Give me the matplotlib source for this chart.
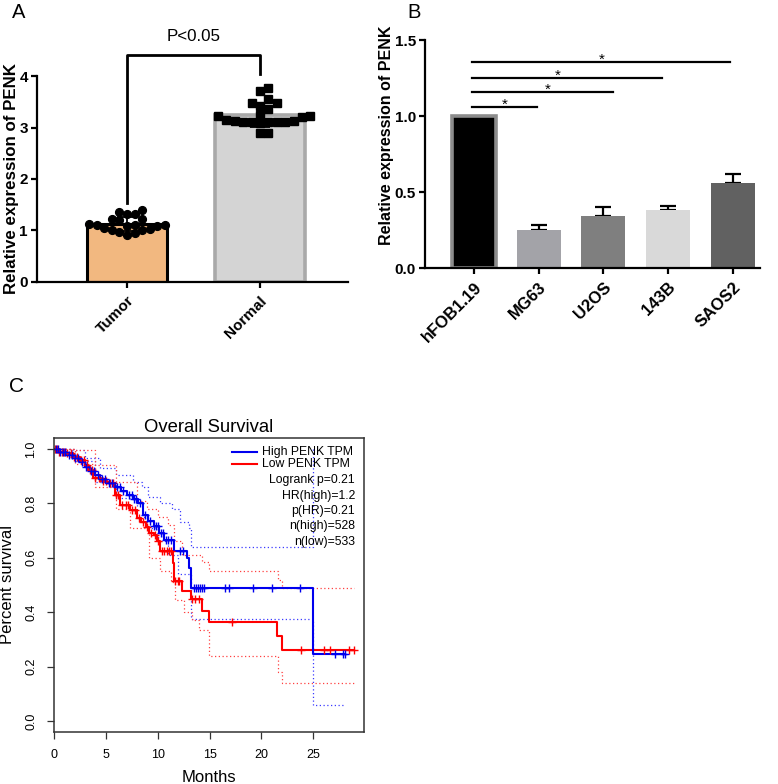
import numpy as np
import matplotlib
matplotlib.use("Agg")
import matplotlib.pyplot as plt

plt.rcParams['font.family'] = ['Liberation Sans', 'DejaVu Sans']

# ---------------- Panel A data ----------------
groups_A = ["Tumor", "Normal"]
tumor_vals = [1.40, 1.33, 1.33, 1.35, 1.22, 1.20, 1.22, 1.10, 1.10, 1.08,
              1.10, 1.08, 1.05, 1.03, 1.00, 0.98, 0.95, 0.92, 1.12, 1.00]
normal_vals = [3.77, 3.70, 3.55, 3.48, 3.47, 3.42, 3.35, 3.25, 3.22, 3.22,
               3.12, 3.10, 3.10, 3.08, 3.15, 3.12, 3.10, 3.10, 3.10, 2.90,
               2.90, 3.20]
pval_text = "P<0.05"

# ---------------- Panel B data ----------------
cells_B = ["hFOB1.19", "MG63", "U2OS", "143B", "SAOS2"]
means_B = [1.00, 0.25, 0.34, 0.38, 0.56]
errs_B = [0.00, 0.035, 0.06, 0.03, 0.06]
sig_end_x = [0.97, 2.15, 2.90, 3.96]
sig_y = [1.06, 1.16, 1.25, 1.355]
sig_star_x = [0.48, 1.14, 1.30, 1.98]

# ---------------- Panel C data (Kaplan-Meier) ----------------
blue_t = [0, 0.5, 1.2, 1.8, 2.5, 3.0, 3.5, 4.0, 4.4, 5.0, 5.9, 6.5, 7.0, 7.6,
          8.1, 8.6, 9.1, 9.6, 10.1, 10.6, 11.55, 12.85, 13.05, 13.2, 25.0]
blue_s = [1.0, 0.99, 0.978, 0.965, 0.953, 0.935, 0.917, 0.905, 0.89, 0.875,
          0.861, 0.845, 0.83, 0.815, 0.80, 0.757, 0.735, 0.715, 0.69, 0.665,
          0.626, 0.598, 0.561, 0.49, 0.245]
blue_end = 28.06
blue_cens = [0.2, 0.4, 0.6, 0.9, 1.1, 1.4, 1.7, 2.0, 2.3, 2.7, 3.1, 3.6, 3.9,
             4.2, 4.6, 4.9, 5.3, 5.6, 6.1, 6.4, 6.7, 7.2, 7.5, 7.7, 7.9, 8.3,
             8.8, 9.3, 9.6, 9.8, 10.0, 10.3, 10.5, 10.8, 11.0, 11.3, 12.2,
             12.4, 13.5, 13.7, 13.9, 14.1, 14.3, 14.5, 16.5, 16.9, 19.2, 21.0,
             23.7, 27.1, 27.9, 28.06]
red_t = [0, 0.5, 1.2, 1.8, 2.5, 3.0, 3.3, 3.8, 4.5, 5.1, 5.9, 6.4, 7.3, 8.0,
         8.4, 8.9, 9.2, 9.6, 9.9, 10.2, 11.45, 11.6, 12.3, 13.2, 14.3, 14.95,
         21.5, 22.0]
red_s = [1.0, 0.99, 0.984, 0.97, 0.958, 0.94, 0.923, 0.892, 0.882, 0.874,
         0.831, 0.794, 0.776, 0.745, 0.73, 0.714, 0.69, 0.684, 0.66, 0.625,
         0.58, 0.513, 0.478, 0.447, 0.406, 0.365, 0.313, 0.261]
red_end = 28.9
red_cens = [0.1, 0.3, 0.5, 0.8, 1.0, 1.3, 1.6, 1.9, 2.2, 2.6, 2.9, 3.2, 3.5,
            3.7, 4.0, 4.3, 4.7, 5.0, 5.4, 5.7, 6.0, 6.2, 6.6, 6.9, 7.1, 7.5,
            7.8, 8.2, 8.6, 9.0, 9.4, 9.7, 10.0, 10.4, 10.6, 10.9, 11.1, 11.3,
            11.7, 12.0, 12.1, 13.3, 13.6, 14.0, 17.2, 23.8, 26.0, 26.6, 28.5,
            28.9]
blue_up_t = [0, 1.5, 3, 4.4, 6, 7.6, 8.5, 9.1, 10.2, 11.4, 12.2, 13.0, 13.25, 25.0]
blue_up_s = [1.0, 0.995, 0.965, 0.93, 0.905, 0.88, 0.86, 0.825, 0.80, 0.78,
             0.73, 0.71, 0.641, 1.0]
blue_lo_t = [0, 2, 4, 6, 8, 9, 10, 11, 12, 13.25, 25.0, 28.0]
blue_lo_s = [1.0, 0.955, 0.88, 0.82, 0.75, 0.71, 0.66, 0.61, 0.54, 0.375, 0.059, 0.059]
red_up_t = [0, 2, 4, 6, 8, 9, 10, 11, 11.6, 12.3, 14.3, 14.95, 21.6, 22.0, 28.9]
red_up_s = [1.0, 0.995, 0.94, 0.88, 0.81, 0.78, 0.75, 0.72, 0.66, 0.61, 0.585,
            0.553, 0.518, 0.488, 0.488]
red_lo_t = [0, 2, 4, 6, 7.3, 9.2, 10.2, 11.3, 11.7, 12.5, 13.3, 14.0, 14.95,
            21.6, 22.0, 28.9]
red_lo_s = [1.0, 0.945, 0.86, 0.78, 0.71, 0.60, 0.55, 0.51, 0.445, 0.40, 0.37,
            0.335, 0.239, 0.181, 0.139, 0.139]
legend_labels = ["High PENK TPM", "Low PENK TPM"]
stats_lines = ["Logrank p=0.21", "HR(high)=1.2", "p(HR)=0.21", "n(high)=528", "n(low)=533"]

W, H = 778, 784
fig = plt.figure(figsize=(W / 100, H / 100), dpi=100)


def ax_px(l, t, r, b):
    return fig.add_axes([l / W, 1 - b / H, (r - l) / W, (b - t) / H])


def swarm_x(ax, center, vals, diam_px):
    """simple greedy beeswarm in pixel space"""
    order = np.argsort(vals)
    placed = []
    xs = np.zeros(len(vals))
    cx, _ = ax.transData.transform((center, 0))
    for i in order:
        _, py = ax.transData.transform((center, vals[i]))
        k = 0
        while True:
            offs = [0] if k == 0 else [k * diam_px, -k * diam_px]
            ok_off = None
            for o in offs:
                if all((cx + o - qx) ** 2 + (py - qy) ** 2 >= (diam_px * 0.95) ** 2
                       for qx, qy in placed):
                    ok_off = o
                    break
            if ok_off is not None:
                break
            k += 1
        placed.append((cx + ok_off, py))
        xs[i] = ax.transData.inverted().transform((cx + ok_off, py))[0]
    return xs


# ================= Panel A =================
axA = ax_px(37, 76, 348, 282)
axA.set_xlim(-0.677, 1.662)
axA.set_ylim(0, 4)
tv = np.array(tumor_vals)
nv = np.array(normal_vals)
axA.bar(0, tv.mean(), width=0.6, color='#f2b880', edgecolor='black', linewidth=2.2, zorder=2)
axA.bar(1, nv.mean(), width=0.67, color='#d4d4d4', edgecolor='#a9a9a9', linewidth=2.6, zorder=2)
xt = swarm_x(axA, 0, tv, 7.6)
xn = swarm_x(axA, 1, nv, 8.4)
axA.plot(xt, tv, 'o', color='black', ms=5.6, zorder=3, clip_on=False)
axA.plot(xn, nv, 's', color='black', ms=5.8, zorder=3, clip_on=False)
axA.errorbar([0, 1], [tv.mean(), nv.mean()], yerr=[tv.std(ddof=1), nv.std(ddof=1)],
             fmt='none', ecolor='black', elinewidth=1.3, capsize=7, capthick=1.3, zorder=4)
axA.plot([0, 0, 1, 1], [1.53, 4.41, 4.41, 4.04], color='black', lw=2, clip_on=False)
axA.text(0.5, 4.62, pval_text, ha='center', va='bottom', fontsize=12.2)
for s in ['top', 'right']:
    axA.spines[s].set_visible(False)
for s in ['left', 'bottom']:
    axA.spines[s].set_linewidth(1.6)
axA.set_yticks([0, 1, 2, 3, 4])
axA.set_yticklabels(['0', '1', '2', '3', '4'], fontweight='bold', fontsize=11)
axA.set_xticks([0, 1])
axA.set_xticklabels(groups_A, fontweight='bold', fontsize=11, rotation=45,
                    ha='right', va='top', rotation_mode='anchor')
axA.tick_params(axis='both', width=1.6, length=4.5, pad=2)
axA.tick_params(axis='x', pad=4)
fig.text(12 / W, 1 - 179 / H, "Relative expression of PENK", rotation=90,
         ha='center', va='center', fontweight='bold', fontsize=12.2)

# ================= Panel B =================
axB = ax_px(425, 40, 760, 268)
axB.set_xlim(-0.757, 4.42)
axB.set_ylim(0, 1.5)
xb = np.arange(len(cells_B))
colorsB = ['#000000', '#a3a3a8', '#7f7f7f', '#d9d9d9', '#616161']
edgesB = ['#8c8c8c', '#a3a3a8', '#7f7f7f', '#d9d9d9', '#616161']
lwB = [2.6, 0, 0, 0, 0]
axB.bar(xb, means_B, width=0.68, color=colorsB, edgecolor=edgesB, linewidth=lwB, zorder=2)
eb = np.array(errs_B)
mask = eb > 0
axB.errorbar(xb[mask], np.array(means_B)[mask], yerr=[np.zeros(mask.sum()), eb[mask]],
             fmt='none', ecolor='black', elinewidth=1.6, capsize=6, capthick=1.6, zorder=1)
for ex, yy, sx in zip(sig_end_x, sig_y, sig_star_x):
    axB.plot([-0.03, ex], [yy, yy], color='black', lw=1.6)
    axB.text(sx, yy - 0.012, '*', ha='center', va='baseline', fontsize=11)
for s in ['top', 'right']:
    axB.spines[s].set_visible(False)
for s in ['left', 'bottom']:
    axB.spines[s].set_linewidth(1.6)
axB.set_yticks([0, 0.5, 1.0, 1.5])
axB.set_yticklabels(['0.0', '0.5', '1.0', '1.5'], fontweight='bold', fontsize=11)
axB.set_xticks(xb)
axB.set_xticklabels(cells_B, fontweight='bold', fontsize=12, rotation=45,
                    ha='right', va='top', rotation_mode='anchor')
axB.tick_params(axis='both', width=1.6, length=4.5, pad=2)
axB.tick_params(axis='x', pad=4)
fig.text(386 / W, 1 - 135 / H, "Relative expression of PENK", rotation=90,
         ha='center', va='center', fontweight='bold', fontsize=11.5)

# ================= Panel C =================
axC = ax_px(54, 438, 364, 732)
axC.set_xlim(0, 29.9)
axC.set_ylim(-0.04, 1.04)


def surv_at(t_arr, s_arr, tc):
    t_arr = np.asarray(t_arr)
    s_arr = np.asarray(s_arr)
    idx = np.searchsorted(t_arr, tc, side='right') - 1
    return s_arr[idx]


dot = (0, (1, 2))
for tt, ss, col in [(blue_up_t, blue_up_s, '#3b3bff'), (blue_lo_t, blue_lo_s, '#3b3bff'),
                    (red_up_t, red_up_s, '#ff4040'), (red_lo_t, red_lo_s, '#ff4040')]:
    axC.step(tt, ss, where='post', color=col, lw=0.9, linestyle=dot)

axC.step(list(red_t) + [red_end], list(red_s) + [red_s[-1]], where='post', color='#ff0000', lw=1.5)
axC.step(list(blue_t) + [blue_end], list(blue_s) + [blue_s[-1]], where='post', color='#0000ee', lw=1.5)
axC.plot(red_cens, surv_at(red_t, red_s, red_cens), '+', color='#ff0000', ms=6, mew=1.0)
axC.plot(blue_cens, surv_at(blue_t, blue_s, blue_cens), '+', color='#0000ee', ms=6, mew=1.0)

for s in axC.spines.values():
    s.set_linewidth(1.1)
    s.set_color('#333333')
axC.set_xticks([0, 5, 10, 15, 20, 25])
axC.set_xticklabels(['0', '5', '10', '15', '20', '25'], fontsize=9)
axC.set_yticks([0, 0.2, 0.4, 0.6, 0.8, 1.0])
axC.set_yticklabels(['0.0', '0.2', '0.4', '0.6', '0.8', '1.0'], fontsize=9,
                    rotation=90, va='center')
axC.tick_params(axis='both', direction='out', length=5, width=0.9, pad=7, color='#333333')
axC.set_title("Overall Survival", fontsize=13.3, pad=4.5)
fig.text(209 / W, 1 - 777 / H, "Months", ha='center', va='center', fontsize=12)
fig.text(8 / W, 1 - 585 / H, "Percent survival", rotation=90, ha='center',
         va='center', fontsize=12)

# legend
for yl, col, lab in [(0.952, '#0000ee', legend_labels[0]), (0.912, '#ff0000', legend_labels[1])]:
    axC.plot([(232 - 54) / 310, (257 - 54) / 310], [yl, yl], color=col, lw=1.5,
             transform=axC.transAxes)
    axC.text((262 - 54) / 310, yl, lab, transform=axC.transAxes, ha='left',
             va='center', fontsize=8.8)
for yl, lab in zip([0.857, 0.803, 0.752, 0.701, 0.646], stats_lines):
    axC.text(0.971, yl, lab, transform=axC.transAxes, ha='right', va='center', fontsize=8.8)

# panel letters
fig.text(19 / W, 1 - 13 / H, "A", ha='center', va='center', fontsize=14.5)
fig.text(414 / W, 1 - 12 / H, "B", ha='center', va='center', fontsize=14.5)
fig.text(17 / W, 1 - 386 / H, "C", ha='center', va='center', fontsize=15)

fig.savefig("out.png", dpi=100)
